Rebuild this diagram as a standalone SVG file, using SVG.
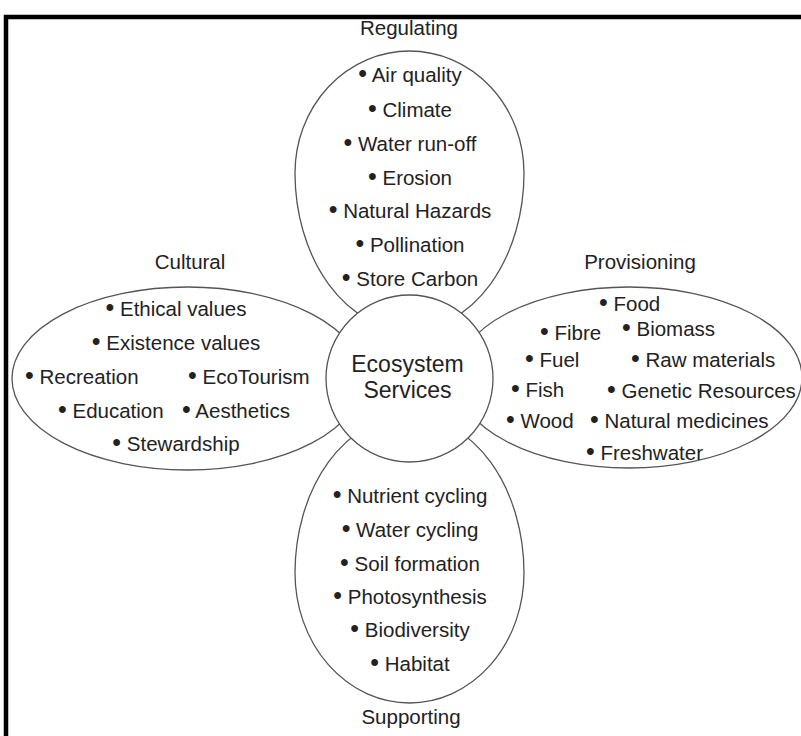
<svg xmlns="http://www.w3.org/2000/svg" width="801" height="736" viewBox="0 0 801 736">
<style>
.petal{fill:#fff;stroke:#555;stroke-width:1.3}
.hub{fill:#fff;stroke:#555;stroke-width:1.3}
text{font-family:"Liberation Sans",Arial,sans-serif;font-size:20.5px;fill:#222}
.c{text-anchor:middle}
.big{font-size:23px}
.b{font-size:25px}
</style>
<rect width="801" height="736" fill="#fff"/>
<path d="M6,745 V17 H810" fill="none" stroke="#000" stroke-width="4.5"/>
<g id="connectors"></g>
<g id="regulating">
<path class="petal" d="M295,173 A114.5,122 0 0 1 524,173 A114.5,157 0 0 1 295,173 Z"/>
<text class="c" x="409" y="35">Regulating</text>
<text class="c" x="410" y="82"><tspan class="b">•</tspan> Air quality</text>
<text class="c" x="410" y="117"><tspan class="b">•</tspan> Climate</text>
<text class="c" x="410" y="151"><tspan class="b">•</tspan> Water run-off</text>
<text class="c" x="410" y="185"><tspan class="b">•</tspan> Erosion</text>
<text class="c" x="410" y="218"><tspan class="b">•</tspan> Natural Hazards</text>
<text class="c" x="410" y="252"><tspan class="b">•</tspan> Pollination</text>
<text class="c" x="410" y="286"><tspan class="b">•</tspan> Store Carbon</text>
</g>
<g id="supporting">
<path class="petal" d="M295,573 A114.5,157 0 0 1 524,573 A114.5,130 0 0 1 295,573 Z"/>
<text class="c" x="410" y="503"><tspan class="b">•</tspan> Nutrient cycling</text>
<text class="c" x="410" y="537"><tspan class="b">•</tspan> Water cycling</text>
<text class="c" x="410" y="571"><tspan class="b">•</tspan> Soil formation</text>
<text class="c" x="410" y="604"><tspan class="b">•</tspan> Photosynthesis</text>
<text class="c" x="410" y="637"><tspan class="b">•</tspan> Biodiversity</text>
<text class="c" x="410" y="671"><tspan class="b">•</tspan> Habitat</text>
<text class="c" x="411" y="724">Supporting</text>
</g>
<g id="cultural">
<ellipse class="petal" cx="187.5" cy="378.5" rx="175.5" ry="91.5"/>
<text class="c" x="190" y="269">Cultural</text>
<text class="c" x="176" y="316"><tspan class="b">•</tspan> Ethical values</text>
<text class="c" x="176" y="350"><tspan class="b">•</tspan> Existence values</text>
<text x="25" y="384"><tspan class="b">•</tspan> Recreation</text>
<text x="188" y="384"><tspan class="b">•</tspan> EcoTourism</text>
<text x="58" y="418"><tspan class="b">•</tspan> Education</text>
<text x="182" y="418"><tspan class="b">•</tspan> Aesthetics</text>
<text class="c" x="176" y="451"><tspan class="b">•</tspan> Stewardship</text>
</g>
<g id="provisioning">
<ellipse class="petal" cx="629" cy="377.5" rx="173" ry="90.5"/>
<text class="c" x="640" y="269">Provisioning</text>
<text x="599" y="311"><tspan class="b">•</tspan> Food</text>
<text x="540" y="340"><tspan class="b">•</tspan> Fibre</text>
<text x="622" y="336"><tspan class="b">•</tspan> Biomass</text>
<text x="525" y="367"><tspan class="b">•</tspan> Fuel</text>
<text x="631" y="367"><tspan class="b">•</tspan> Raw materials</text>
<text x="511" y="397"><tspan class="b">•</tspan> Fish</text>
<text x="607" y="398"><tspan class="b">•</tspan> Genetic Resources</text>
<text x="506" y="428"><tspan class="b">•</tspan> Wood</text>
<text x="590" y="428"><tspan class="b">•</tspan> Natural medicines</text>
<text x="586" y="460"><tspan class="b">•</tspan> Freshwater</text>
</g>
<g id="ecosystem-services">
<circle class="hub" cx="409.5" cy="378.5" r="83.5"/>
<text class="c big" x="407.5" y="372">Ecosystem</text>
<text class="c big" x="407.5" y="398">Services</text>
</g>
</svg>
